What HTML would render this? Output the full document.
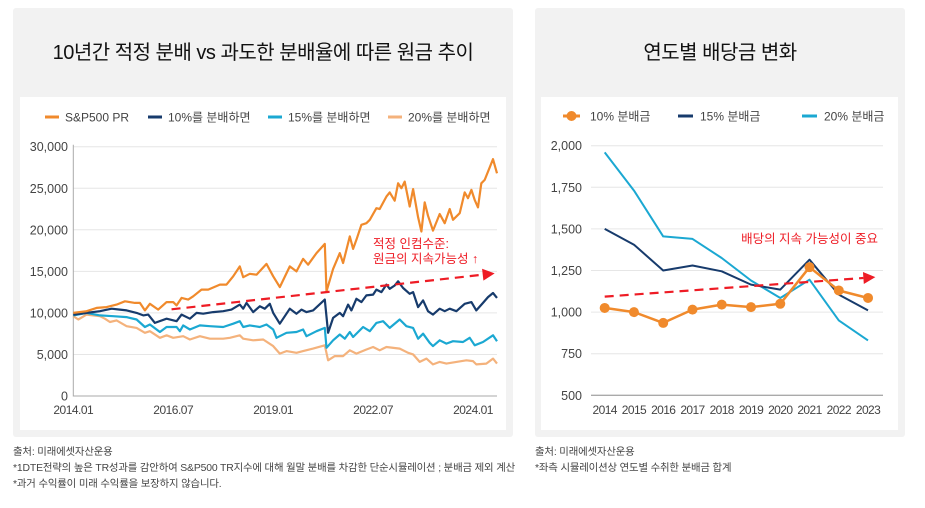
<!DOCTYPE html>
<html><head><meta charset="utf-8">
<style>
body{margin:0;width:925px;height:508px;background:#fff;font-family:"Liberation Sans","Noto Sans CJK KR",sans-serif;overflow:hidden;position:relative}
.panel{position:absolute;background:#f2f2f2;border-radius:3px}
.inner{position:absolute;background:#fff}
.title{position:absolute;font-size:20px;color:#111;text-align:center;letter-spacing:-0.5px}
.note{position:absolute;font-size:10.4px;color:#444;line-height:16px;white-space:nowrap;letter-spacing:-0.15px}
svg{position:absolute;left:0;top:0}
svg text{font-family:"Liberation Sans","Noto Sans CJK KR",sans-serif}
</style></head><body>
<div class="panel" style="left:13px;top:8px;width:500px;height:429px"></div>
<div class="inner" style="left:20px;top:97px;width:486px;height:333px"></div>
<div class="panel" style="left:535px;top:8px;width:370px;height:429px"></div>
<div class="inner" style="left:541px;top:97px;width:357px;height:333px"></div>
<div class="title" style="left:13px;top:36px;width:500px">10년간 적정 분배 vs 과도한 분배율에 따른 원금 추이</div>
<div class="title" style="left:535px;top:36px;width:370px">연도별 배당금 변화</div>
<div class="note" style="left:13px;top:445px">출처: 미래에셋자산운용<br>*1DTE전략의 높은 TR성과를 감안하여 S&amp;P500 TR지수에 대해 월말 분배를 차감한 단순시뮬레이션 ; 분배금 제외 계산<br>*과거 수익률이 미래 수익률을 보장하지 않습니다.</div>
<div class="note" style="left:535px;top:445px">출처: 미래에셋자산운용<br>*좌측 시뮬레이션상 연도별 수취한 분배금 합계</div>
<svg id="chart" width="925" height="508"></svg>
<script>
// ---- left chart data ----
const spMonths=[0,4,7,10,13,15.5,18.5,20,21.5,23,25.5,28,30,31,32.5,34.5,36,38.5,40.5,44,46,48,50,51,53,55,58,60,62,65,67,69,70.5,73,75.5,76,78,80,81,83,84,85,86.5,88,89,91,92,94,95,96.5,97.5,98.5,99.5,101,102,103.5,104.5,105.5,106.5,108,110,111.5,113,114,116,117.5,118.5,119.5,120.5,121.5,122.5,123.5,126,127.2];
const spValues=[10000,10200,10600,10700,11000,11400,11200,11200,10300,11100,10400,11300,11300,10900,11800,11600,12000,12800,12800,13400,13400,14400,15600,14300,14700,14600,15900,14400,13100,15600,15000,16500,15800,17200,18300,12600,15300,17200,16000,19200,17700,18800,20600,20800,21200,22600,22500,24000,24500,23500,25600,25000,25800,22800,24900,21500,19800,23300,21700,19900,21900,20800,22500,21200,22000,24500,23800,24800,23600,22700,25600,26000,28500,26800];
const d10Months=[0,4,8,11.5,14,16,19,21,22.5,24.5,28,31,32.5,35,37,39,42,45,47.5,50,51,52,54,56,57.5,59,60,62,65,67,68.5,70,72,75.5,76.5,78,80,81,82.5,83.5,85,86.5,88,90,91,92.5,94,95,96.5,97.5,99,101,102,103.5,105,106.5,108,110,111.5,113,115,117.5,119.5,121,123,124.5,126,127.2];
const d10Values=[9800,10000,10200,10500,10400,10300,10000,9700,9800,8800,9300,9000,9800,9300,10000,9900,10100,10200,10400,11000,10500,11200,10100,10800,10500,11100,10000,8700,10500,9900,10400,10100,10300,11600,7600,9400,10000,9600,11000,10300,11700,11300,12100,12200,12800,12500,13400,12900,13300,13800,13000,12300,12500,10700,11500,10200,9800,10500,10200,10500,10200,11100,11300,10300,11200,11900,12400,11800];
const d15Months=[0,4,8,12,16,19,21.5,23,26,28,31,32,33,35,38,41,45,48,50,51,53,56,58,60,61,64,67,69,70,73,75.5,76,78,80,81.5,83,84,87,89,91,93,95,98,100,102,103.5,105,107,108,110,112,114,117,119,120.5,123,126,127.2];
const d15Values=[9700,10000,9700,9600,9500,9200,8300,8600,7700,8300,8300,7800,8500,8000,8500,8400,8300,8700,9000,8300,8500,8300,8600,8000,7000,7600,7700,8000,7200,7800,8200,5800,6700,7400,6900,7700,7100,8300,7800,8800,9000,8200,9200,8400,8200,6900,7500,6400,6000,6700,6300,6600,6500,7000,6100,6500,7300,6600];
const d20Months=[0,1.5,4,8,9.5,11,13,16,19,21.5,23,26,28,30,33,35,38,41,45,47,50,51,54,57,60,62,64,67,69,72,75.5,76.5,78.5,81,83,85,88,90,92,94,98,100.5,102,104,106,108,110,112,115,118,120,121,124,126,127.2];
const d20Values=[9600,9200,9800,9600,9300,8900,9100,8400,8200,7600,7800,7000,7300,7000,7200,6800,7200,6900,6900,7000,7300,6900,6700,6800,6000,5100,5400,5200,5400,5700,6100,4300,4800,4800,5500,5100,5600,5900,5500,5900,5700,5200,5000,4100,4500,3800,4100,3900,4100,4300,4200,3800,3900,4500,3900];
const leftYTicks=[0,5000,10000,15000,20000,25000,30000];
const leftXTickMonths=[0,30,60,90,120];
const leftXTickLabels=['2014.01','2016.07','2019.01','2022.07','2024.01'];
const leftTrendMonths=[29.5,126.5];
const leftTrendValues=[10430,14760];
// ---- right chart data ----
const years=['2014','2015','2016','2017','2018','2019','2020','2021','2022','2023'];
const div10=[1025,1000,935,1015,1045,1030,1050,1270,1130,1085];
const div15=[1500,1405,1250,1280,1245,1165,1135,1315,1105,1010];
const div20=[1960,1730,1455,1440,1325,1190,1085,1195,950,830];
const rightYTicks=[500,750,1000,1250,1500,1750,2000];
const rightTrendIdx=[0,9.25];
const rightTrendValues=[1093,1210];

const NS='http://www.w3.org/2000/svg';
const svg=document.getElementById('chart');
function mk(tag,attrs,parent){const e=document.createElementNS(NS,tag);for(const k in attrs)e.setAttribute(k,attrs[k]);(parent||svg).appendChild(e);return e;}
function fmt(v){return v.toLocaleString('en-US');}

// left axes
const LX0=73.3,LX1=497,LMAX=127.2,LY0=396,LY1=146.7;
const lx=m=>LX0+m*(LX1-LX0)/LMAX;
const ly=v=>LY0-v/30000*(LY0-LY1);
leftYTicks.forEach(t=>{
  if(t>0){const g=mk('line',{x1:LX0,x2:LX1,y1:ly(t),y2:ly(t),stroke:'#e6e6e6','stroke-width':1});
  
  }
  const tx=mk('text',{x:68,y:ly(t)+4.5,'text-anchor':'end','font-size':12.5,fill:'#444'});
  tx.textContent=fmt(t);
  
  
});
const lax=mk('polyline',{points:`${LX0},${LY1-2} ${LX0},${LY0} ${LX1},${LY0}`,fill:'none',stroke:'#aaa','stroke-width':1});


leftXTickMonths.forEach((m,i)=>{
  const tx=mk('text',{x:lx(m),y:414,'text-anchor':'middle','font-size':12,fill:'#444','letter-spacing':'-0.5'});
  tx.textContent=leftXTickLabels[i];
  
  
});
function lineL(ms,vs,color,name){
  const n=Math.min(ms.length,vs.length);const pts=[];
  for(let i=0;i<n;i++)pts.push(lx(ms[i]).toFixed(1)+','+ly(vs[i]).toFixed(1));
  const p=mk('polyline',{points:pts.join(' '),fill:'none',stroke:color,'stroke-width':2.2,'stroke-linejoin':'round'});
  
  
}
lineL(d20Months,d20Values,'#f4b27c','line-20pct');
lineL(d15Months,d15Values,'#1ba8d2','line-15pct');
lineL(d10Months,d10Values,'#173b6c','line-10pct');
lineL(spMonths,spValues,'#f08a2c','line-sp500');
// left trend arrow
{const x1=lx(leftTrendMonths[0]),y1=ly(leftTrendValues[0]),x2=lx(leftTrendMonths[1]),y2=ly(leftTrendValues[1]);
 const ang=Math.atan2(y2-y1,x2-x1),L=12;
 const tl=mk('line',{x1:x1,y1:y1,x2:x2-L*Math.cos(ang),y2:y2-L*Math.sin(ang),stroke:'#ee1c25','stroke-width':2.2,'stroke-dasharray':'9,6'});
 
 
 const px=-Math.sin(ang)*6,py=Math.cos(ang)*6,bx=x2-L*Math.cos(ang),by=y2-L*Math.sin(ang);
 const ah=mk('polygon',{points:`${x2},${y2} ${bx+px},${by+py} ${bx-px},${by-py}`,fill:'#ee1c25'});
 
 }
{const a=mk('text',{x:373,y:248,'font-size':12.5,fill:'#ee1c25'});a.textContent='적정 인컴수준:';
 
 
 const b=mk('text',{x:373,y:263,'font-size':12.5,fill:'#ee1c25'});b.textContent='원금의 지속가능성 ';
 
 
 const ar=mk('tspan',{'font-weight':'bold'},b);ar.textContent='↑';}
// left legend
[['S&P500 PR','#f08a2c',45],['10%를 분배하면','#173b6c',148],['15%를 분배하면','#1ba8d2',268],['20%를 분배하면','#f4b27c',388]].forEach(l=>{
  const ln=mk('line',{x1:l[2],x2:l[2]+14,y1:117,y2:117,stroke:l[1],'stroke-width':3});
  
  
  const t=mk('text',{x:l[2]+20,y:121.5,'font-size':12,fill:'#444'});t.textContent=l[0];
  
  
});

// right axes
const RX0=591,RX1=883,RY0=395.3,RY1=145.7;
const rx=i=>604.7+i*29.26;
const ry=v=>RY0-(v-500)/1500*(RY0-RY1);
rightYTicks.forEach(t=>{
  const g=mk('line',{x1:RX0,x2:RX1,y1:ry(t),y2:ry(t),stroke:t===500?'#aaa':'#e6e6e6','stroke-width':t===500?1.3:1});
  
  
  const tx=mk('text',{x:582,y:ry(t)+4.5,'text-anchor':'end','font-size':12.5,fill:'#444'});
  tx.textContent=fmt(t);
  
  
});
years.forEach((y,i)=>{
  const tx=mk('text',{x:rx(i),y:414,'text-anchor':'middle','font-size':12,fill:'#444','letter-spacing':'-0.6'});
  tx.textContent=y;
  
  
});
function lineR(vs,color,name,w){
  const p=mk('polyline',{points:vs.map((v,i)=>rx(i).toFixed(1)+','+ry(v).toFixed(1)).join(' '),fill:'none',stroke:color,'stroke-width':w,'stroke-linejoin':'round'});
  
  
}
lineR(div20,'#1ba8d2','line-20pct-dividend',2);
lineR(div15,'#173b6c','line-15pct-dividend',2);
// right trend arrow
{const x1=rx(rightTrendIdx[0]),y1=ry(rightTrendValues[0]),x2=rx(rightTrendIdx[1]),y2=ry(rightTrendValues[1]);
 const ang=Math.atan2(y2-y1,x2-x1),L=12;
 const tl=mk('line',{x1:x1,y1:y1,x2:x2-L*Math.cos(ang),y2:y2-L*Math.sin(ang),stroke:'#ee1c25','stroke-width':2.2,'stroke-dasharray':'9,6'});
 
 
 const px=-Math.sin(ang)*6,py=Math.cos(ang)*6,bx=x2-L*Math.cos(ang),by=y2-L*Math.sin(ang);
 const ah=mk('polygon',{points:`${x2},${y2} ${bx+px},${by+py} ${bx-px},${by-py}`,fill:'#ee1c25'});
 
 }
lineR(div10,'#f08a2c','line-10pct-dividend',2.5);
div10.forEach((v,i)=>{
  const c=mk('circle',{cx:rx(i),cy:ry(v),r:5,fill:'#f08a2c'});
  
  
});
{const a=mk('text',{x:878,y:243,'text-anchor':'end','font-size':12.5,fill:'#ee1c25'});a.textContent='배당의 지속 가능성이 중요';
 
 }
// right legend
{const ln=mk('line',{x1:563,x2:580,y1:116,y2:116,stroke:'#f08a2c','stroke-width':3});
 
 
 const c=mk('circle',{cx:571.5,cy:116,r:5,fill:'#f08a2c'});
 
 }
[['10% 분배금',null,590],['15% 분배금','#173b6c',678],['20% 분배금','#1ba8d2',802]].forEach(l=>{
  let tx=l[2];
  if(l[1]){const ln=mk('line',{x1:l[2],x2:l[2]+15,y1:116,y2:116,stroke:l[1],'stroke-width':3});
    
    
    tx=l[2]+22;}
  const t=mk('text',{x:tx,y:120.5,'font-size':12,fill:'#444'});t.textContent=l[0];
  
  
});
</script>
</body></html>
